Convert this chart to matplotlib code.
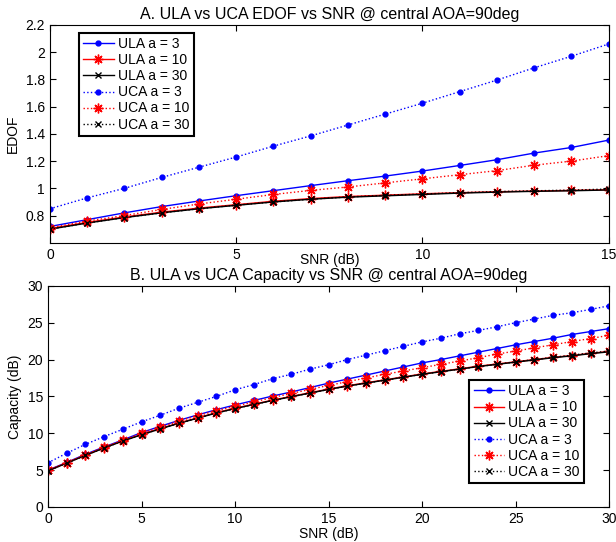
import numpy as np
import matplotlib
matplotlib.use('Agg')
import matplotlib.pyplot as plt

plt.rcParams['font.family'] = ['Liberation Sans', 'DejaVu Sans']
plt.rcParams['font.size'] = 10

# EDOF vs SNR (0..15 dB)
snr_a = list(range(0, 16))
edof_ula3 = [0.72, 0.77, 0.82, 0.866, 0.907, 0.946, 0.983, 1.02, 1.056, 1.09, 1.127, 1.168, 1.21, 1.259, 1.30, 1.354]
edof_ula10 = [0.705, 0.75, 0.79, 0.825, 0.855, 0.88, 0.905, 0.925, 0.94, 0.95, 0.96, 0.968, 0.975, 0.98, 0.985, 0.99]
edof_ula30 = [0.70, 0.745, 0.785, 0.82, 0.85, 0.875, 0.90, 0.92, 0.935, 0.945, 0.955, 0.965, 0.972, 0.978, 0.982, 0.988]
edof_uca3 = [0.85, 0.93, 1.00, 1.08, 1.155, 1.23, 1.31, 1.385, 1.465, 1.545, 1.625, 1.71, 1.795, 1.885, 1.97, 2.06]
edof_uca10 = [0.71, 0.76, 0.80, 0.845, 0.885, 0.92, 0.955, 0.985, 1.01, 1.04, 1.07, 1.10, 1.13, 1.17, 1.20, 1.24]
edof_uca30 = [0.70, 0.745, 0.785, 0.82, 0.85, 0.877, 0.90, 0.92, 0.937, 0.948, 0.958, 0.968, 0.976, 0.982, 0.987, 0.995]

# Capacity vs SNR (0..30 dB)
snr_b = list(range(0, 31))
cap_ula3 = [5.0, 6.05, 7.15, 8.15, 9.1, 10.1, 10.95, 11.75, 12.5, 13.2, 13.85, 14.45, 15.05, 15.6, 16.2,
            16.8, 17.35, 17.9, 18.45, 19.0, 19.55, 20.0, 20.5, 21.0, 21.5, 22.0, 22.45, 22.9, 23.4, 23.8, 24.2]
cap_ula10 = [4.95, 6.0, 7.05, 8.05, 9.0, 9.85, 10.65, 11.4, 12.1, 12.8, 13.4, 13.95, 14.5, 15.0, 15.5,
             16.0, 16.45, 16.85, 17.25, 17.65, 18.05, 18.4, 18.75, 19.1, 19.4, 19.7, 20.0, 20.3, 20.55, 20.85, 21.1]
cap_ula30 = [4.9, 5.95, 7.0, 8.0, 8.95, 9.8, 10.6, 11.35, 12.05, 12.75, 13.35, 13.9, 14.45, 14.95, 15.45,
             15.95, 16.4, 16.8, 17.2, 17.6, 18.0, 18.35, 18.7, 19.05, 19.35, 19.65, 19.95, 20.25, 20.5, 20.8, 21.05]
cap_uca3 = [6.0, 7.3, 8.5, 9.55, 10.55, 11.55, 12.45, 13.4, 14.2, 15.0, 15.9, 16.6, 17.4, 18.0, 18.7,
            19.3, 20.0, 20.6, 21.2, 21.8, 22.4, 22.9, 23.5, 23.95, 24.45, 25.0, 25.5, 26.0, 26.35, 26.8, 27.3]
cap_uca10 = [4.95, 6.0, 7.1, 8.1, 9.05, 10.0, 10.85, 11.65, 12.4, 13.05, 13.65, 14.25, 14.85, 15.4, 15.95,
             16.5, 17.0, 17.5, 18.0, 18.45, 18.9, 19.35, 19.8, 20.25, 20.75, 21.15, 21.6, 22.0, 22.45, 22.85, 23.3]
cap_uca30 = [4.9, 5.95, 7.0, 8.0, 8.95, 9.8, 10.6, 11.35, 12.05, 12.75, 13.35, 13.9, 14.45, 14.95, 15.45,
             15.95, 16.4, 16.8, 17.2, 17.6, 18.0, 18.35, 18.7, 19.05, 19.35, 19.7, 20.0, 20.3, 20.6, 20.9, 21.15]

labels = ['ULA a = 3', 'ULA a = 10', 'ULA a = 30', 'UCA a = 3', 'UCA a = 10', 'UCA a = 30']
star = (8, 2, 0)  # matlab-like asterisk
styles = [('b', '-', '.'), ('r', '-', star), ('k', '-', 'x'),
          ('b', ':', '.'), ('r', ':', star), ('k', ':', 'x')]


def draw(ax, x, series):
    for ys, lab, (c, ls, m) in zip(series, labels, styles):
        ms = 7 if m == '.' else (7 if m == star else 5)
        ax.plot(x, ys, color=c, linestyle=ls, marker=m, markersize=ms, linewidth=1,
                markeredgewidth=1, label=lab)
    ax.tick_params(direction='in', top=True, right=True, length=4)
    for s in ax.spines.values():
        s.set_linewidth(0.8)


fig = plt.figure(figsize=(6.16, 5.42), dpi=100)

ax1 = fig.add_axes([0.081, 0.552, 0.907, 0.402])
draw(ax1, snr_a, [edof_ula3, edof_ula10, edof_ula30, edof_uca3, edof_uca10, edof_uca30])
ax1.set_xlim(0, 15)
ax1.set_ylim(0.6, 2.2)
ax1.set_xticks([0, 5, 10, 15])
ax1.set_yticks([0.8, 1, 1.2, 1.4, 1.6, 1.8, 2, 2.2])
ax1.set_yticklabels(['0.8', '1', '1.2', '1.4', '1.6', '1.8', '2', '2.2'])
ax1.set_xlabel('SNR (dB)', labelpad=-6)
ax1.set_ylabel('EDOF')
ax1.set_title('A. ULA vs UCA EDOF vs SNR @ central AOA=90deg', pad=4, fontsize=11.5)
leg1 = ax1.legend(loc='upper left', bbox_to_anchor=(0.052, 0.963), fancybox=False,
                  edgecolor='k', framealpha=1, handlelength=2.2, borderpad=0.3,
                  labelspacing=0.15, handletextpad=0.3, borderaxespad=0)
leg1.get_frame().set_linewidth(1.5)

ax2 = fig.add_axes([0.078, 0.0646, 0.911, 0.408])
draw(ax2, snr_b, [cap_ula3, cap_ula10, cap_ula30, cap_uca3, cap_uca10, cap_uca30])
ax2.set_xlim(0, 30)
ax2.set_ylim(0, 30)
ax2.set_xticks(range(0, 31, 5))
ax2.set_yticks(range(0, 31, 5))
ax2.set_xlabel('SNR (dB)', labelpad=1)
ax2.set_ylabel('Capacity (dB)')
ax2.set_title('B. ULA vs UCA Capacity vs SNR @ central AOA=90deg', pad=4, fontsize=11.5)
leg2 = ax2.legend(loc='lower right', bbox_to_anchor=(0.955, 0.109), fancybox=False,
                  edgecolor='k', framealpha=1, handlelength=2.2, borderpad=0.3,
                  labelspacing=0.15, handletextpad=0.3, borderaxespad=0)
leg2.get_frame().set_linewidth(1.5)

fig.savefig('out.png', dpi=100)
